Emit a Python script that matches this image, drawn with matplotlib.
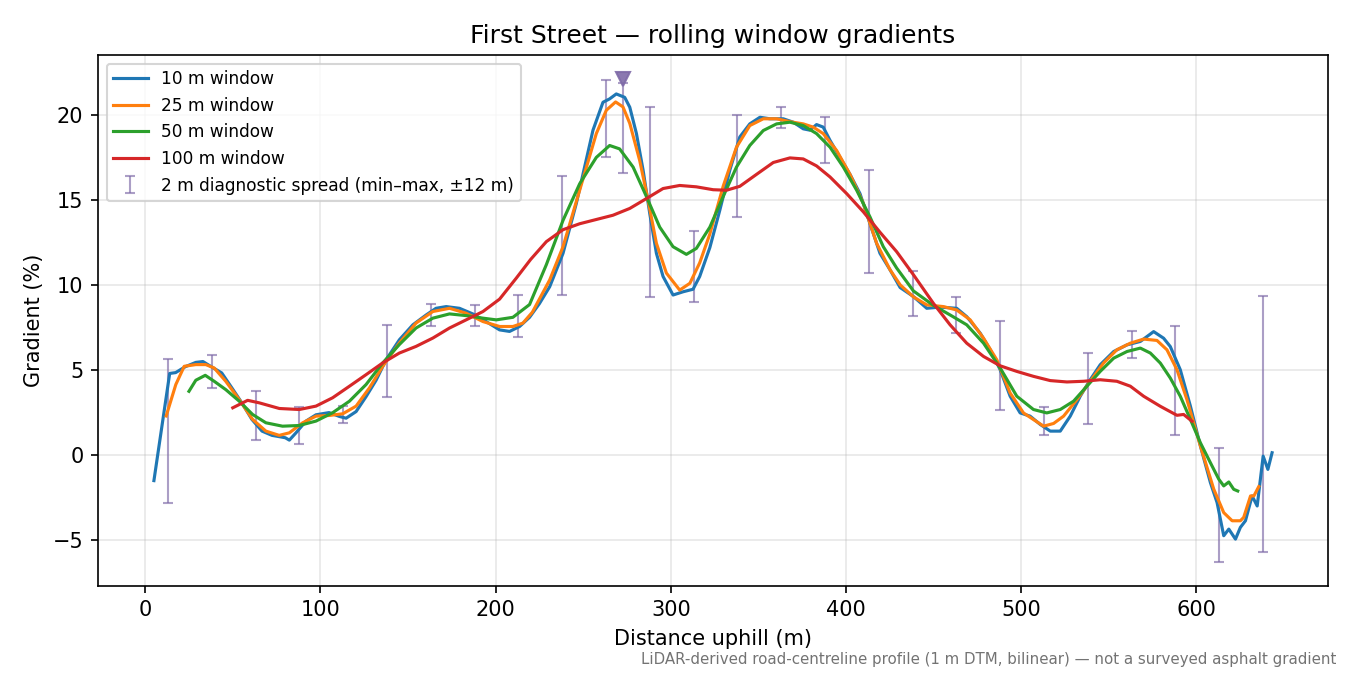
import numpy as np
import matplotlib
matplotlib.use("Agg")
import matplotlib.pyplot as plt

# rolling window gradient profiles (distance m, gradient %)
w10_x = [5, 14, 17.4, 23, 28.9, 33, 36.1, 43.7, 49.5, 55.2, 60.9, 66.7, 72.4, 80, 82.3, 86, 91.8,
         97.5, 105, 110.9, 114.7, 120.4, 126.1, 131.8, 137.5, 145.1, 152.8, 160.4, 166, 171.8,
         179.4, 187, 194.6, 202.3, 208, 213.7, 219.4, 225, 230.9, 238.5, 246.1, 255.6, 261.3,
         265.1, 268.9, 273.7, 276.6, 280.4, 284.2, 288, 291.8, 295.6, 301.3, 307, 312.7, 316.5,
         322.3, 328, 333.7, 339.4, 345.1, 350.9, 356.6, 364.2, 369.9, 375.6, 379.4, 383.2, 387,
         390.9, 396.6, 402.3, 408, 413.7, 419.4, 425.1, 430.9, 438.5, 446.1, 453.7, 463.2, 468.9,
         476.6, 482.3, 488, 493.7, 499.4, 505.1, 510.9, 516.6, 522.3, 528, 533.7, 539.4, 545.1,
         552.8, 560.4, 568, 575.6, 581.3, 585.1, 590.8, 596.6, 602.3, 608, 611.8, 615.6, 618.5,
         622.3, 625.1, 628, 631.8, 634.7, 638.1, 640.8, 643.2]
w10_y = [-1.5, 4.8, 4.85, 5.2, 5.45, 5.5, 5.3, 4.83, 3.95, 3.07, 2.1, 1.41, 1.16, 1.02, 0.88, 1.3, 2.0,
         2.37, 2.5, 2.27, 2.17, 2.56, 3.44, 4.4, 5.6, 6.78, 7.66, 8.24, 8.63, 8.73,
         8.63, 8.3, 7.85, 7.36, 7.27, 7.56, 8.1, 8.9, 9.9, 11.86, 14.8, 19.1, 20.74,
         20.94, 21.23, 21.03, 20.45, 18.9, 16.75, 14.2, 11.86, 10.5, 9.41, 9.6, 9.75, 10.5,
         12.2, 14.4, 16.75, 18.7, 19.47, 19.86, 19.77, 19.77, 19.57, 19.18, 19.1, 19.43, 19.28,
         18.5, 17.5, 16.5, 15.37, 13.6, 11.86, 10.9, 9.85, 9.32, 8.63, 8.7, 8.63, 8.14,
         7.17, 6.2, 5.02, 3.46, 2.48, 2.29, 1.8, 1.41, 1.41, 2.29, 3.46, 4.43, 5.31,
         6.09, 6.48, 6.68, 7.26, 6.87, 6.38, 5.02, 2.87, 0.53, -1.62, -2.79, -4.74, -4.35,
         -4.94, -4.25, -3.86, -2.4, -2.99, -0.06, -0.84, 0.14]

w25_x = [12, 17.5, 22.3, 28.9, 34.6, 39.4, 46, 53.7, 61.3, 68.9, 76.5, 82.3, 89.9, 97.5, 105.1,
         112.8, 120.4, 128, 135.6, 145.1, 154.6, 164.2, 173.7, 183.2, 192.8, 202.3, 209.9, 215.6,
         221, 230.9, 238.5, 248, 257.5, 263.2, 268.5, 272.7, 276.6, 282.3, 287, 291.8, 297.5,
         305.1, 310.9, 316.5, 322.3, 329.9, 337.5, 345.1, 352.8, 360.4, 368, 375.6, 381.3, 387,
         394.7, 402.3, 409.9, 417.5, 425.1, 431, 438.5, 446.1, 455.6, 463.2, 470.9, 478.5, 486.1,
         493.7, 501.3, 507, 512.8, 518.5, 524.2, 531.8, 539.4, 547, 554.6, 562.3, 569.9, 577.5,
         583.2, 588.9, 594.6, 602.3, 609.9, 615.6, 620.4, 625.1, 627, 630.9, 632.8, 635.6]
w25_y = [2.3, 4.15, 5.22, 5.32, 5.32, 5.12, 4.34, 3.26, 2.1, 1.41, 1.16, 1.31, 1.9, 2.29, 2.33,
         2.43, 2.88, 3.95, 5.22, 6.59, 7.76, 8.44, 8.63, 8.34, 7.85, 7.56, 7.56, 7.76,
         8.4, 10.3, 12.25, 15.57, 18.9, 20.27, 20.76, 20.47, 19.5, 17.3, 15.0, 12.45, 10.7,
         9.7, 10.1, 11.3, 13.0, 15.8, 18.1, 19.37, 19.77, 19.77, 19.6, 19.47, 19.28, 18.9,
         17.9, 16.5, 14.8, 12.45, 10.9, 10.0, 9.3, 8.83, 8.73, 8.53, 7.95, 6.87, 5.6,
         3.65, 2.48, 2.09, 1.7, 1.86, 2.29, 3.26, 4.34, 5.41, 6.19, 6.58, 6.82, 6.74,
         6.19, 5.02, 3.26, 0.53, -2.0, -3.38, -3.86, -3.86, -3.66, -2.4, -2.4, -1.85]

w50_x = [25, 28.9, 34.3, 39.4, 46, 53.7, 61.3, 68.9, 78.4, 87.9, 97.5, 107, 116.6, 126.1, 135.6,
         145.1, 154.6, 164.2, 173.7, 183.2, 192.8, 200.4, 209.9, 219.4, 229, 238.5, 248, 257.5,
         265.1, 270.8, 278.5, 286.1, 293.7, 301.3, 308.9, 314.6, 322.3, 329.9, 337.5, 345.1,
         352.8, 360.4, 368, 375.6, 383.2, 390.9, 398.5, 406.1, 413.7, 421.3, 428.9, 438.5, 449.9,
         459.4, 468.9, 478.5, 488, 497.5, 507, 514.6, 522.3, 529.9, 537.5, 545.1, 552.8, 560.4,
         568, 573.7, 579.4, 585.1, 590.8, 596.6, 602.3, 608, 612.8, 615.6, 618.5, 621.3, 623.6]
w50_y = [3.75, 4.4, 4.69, 4.34, 3.85, 3.17, 2.39, 1.9, 1.7, 1.74, 2.0, 2.49, 3.17, 4.15, 5.42,
         6.5, 7.47, 8.05, 8.3, 8.2, 8.05, 7.95, 8.1, 8.85, 11.2, 13.8, 15.95, 17.5,
         18.2, 18.0, 16.93, 15.2, 13.4, 12.25, 11.8, 12.15, 13.4, 15.2, 16.93, 18.2,
         19.08, 19.47, 19.57, 19.37, 18.9, 18.1, 16.93, 15.57, 14.0, 12.25, 11.0, 9.65, 8.8,
         8.24, 7.66, 6.58, 5.12, 3.46, 2.68, 2.48, 2.68, 3.17, 4.05, 4.92, 5.7, 6.09,
         6.29, 6.0, 5.41, 4.53, 3.46, 2.09, 0.72, -0.45, -1.42, -1.81, -1.58, -2.01, -2.11]

w100_x = [50, 58.5, 65.2, 76.6, 88, 97.5, 107, 116.6, 126.1, 135.6, 145.1, 154.6, 164.2, 173.7,
          183.2, 192.8, 202.3, 211.8, 220, 229, 238.5, 248, 257.5, 267, 276.6, 286.1, 295.6,
          305.1, 314.6, 324.2, 331.8, 339.4, 348.9, 358.5, 368, 375.6, 383.2, 390.9, 400.4,
          409.9, 419.4, 428.9, 438.5, 449.9, 459.4, 468.9, 478.5, 488, 497.5, 507, 516.6, 526.1,
          535.6, 545.1, 554.6, 562.3, 569.9, 579.4, 588.9, 592.7, 597.5]
w100_y = [2.78, 3.22, 3.07, 2.74, 2.68, 2.88, 3.37, 4.05, 4.73, 5.42, 6.0, 6.39, 6.88, 7.47,
          7.95, 8.44, 9.17, 10.4, 11.5, 12.55, 13.25, 13.6, 13.85, 14.1, 14.5, 15.08, 15.67,
          15.85, 15.77, 15.6, 15.57, 15.8, 16.5, 17.2, 17.47, 17.41, 17.0, 16.35, 15.37,
          14.3, 13.1, 11.96, 10.6, 8.92, 7.66, 6.58, 5.8, 5.25, 4.92, 4.63, 4.38, 4.3,
          4.34, 4.43, 4.34, 4.05, 3.46, 2.87, 2.34, 2.39, 1.99]

# 2 m diagnostic spread, min/max within +-12 m
spread_x = [13, 38, 63, 88, 113, 138, 163, 188, 213, 238, 263, 273, 288, 313, 338, 363, 388,
            413, 438, 463, 488, 513, 538, 563, 588, 613, 638]
spread_lo = [-2.79, 3.95, 0.88, 0.63, 1.9, 3.4, 7.56, 7.56, 6.92, 9.41, 17.5, 16.58, 9.32, 9.02,
             14.0, 19.22, 17.17, 10.69, 8.2, 7.2, 2.64, 1.17, 1.82, 5.68, 1.17, -6.27, -5.68]
spread_hi = [5.66, 5.86, 3.75, 2.81, 2.91, 7.62, 8.89, 8.83, 9.41, 16.4, 22.07, 21.9, 20.48, 13.16,
             20.02, 20.45, 19.9, 16.74, 10.84, 9.32, 7.91, 2.8, 6.03, 7.27, 7.56, 0.41, 9.38]

peak_x = 273
peak_y = 22.1

fig, ax = plt.subplots(figsize=(9, 4.5), dpi=150)

lo = np.array(spread_lo)
hi = np.array(spread_hi)
mid = (lo + hi) / 2
ax.errorbar(spread_x, mid, yerr=[mid - lo, hi - mid], fmt='none', ecolor='#7f6ba8',
            alpha=0.65, elinewidth=1, capsize=2.5, capthick=1,
            label='2 m diagnostic spread (min\u2013max, \u00b112 m)')

ax.plot(w10_x, w10_y, color='tab:blue', lw=1.5, label='10 m window')
ax.plot(w25_x, w25_y, color='tab:orange', lw=1.5, label='25 m window')
ax.plot(w50_x, w50_y, color='tab:green', lw=1.5, label='50 m window')
ax.plot(w100_x, w100_y, color='tab:red', lw=1.5, label='100 m window')

ax.plot([peak_x], [peak_y], marker='v', ms=7, color='#7f6ba8', alpha=0.9, ls='none')

ax.grid(True, alpha=0.3)
ax.set_title('First Street \u2014 rolling window gradients')
ax.set_xlabel('Distance uphill (m)')
ax.set_ylabel('Gradient (%)')

ax.legend(loc='upper left', fontsize=8.2)

fig.text(0.99, 0.012,
         'LiDAR-derived road-centreline profile (1 m DTM, bilinear) \u2014 not a surveyed asphalt gradient',
         ha='right', va='bottom', fontsize=7.2, color='0.45')

plt.subplots_adjust(left=0.0726, right=0.9837, top=0.9185, bottom=0.132)
plt.savefig('out.png', dpi=150)
